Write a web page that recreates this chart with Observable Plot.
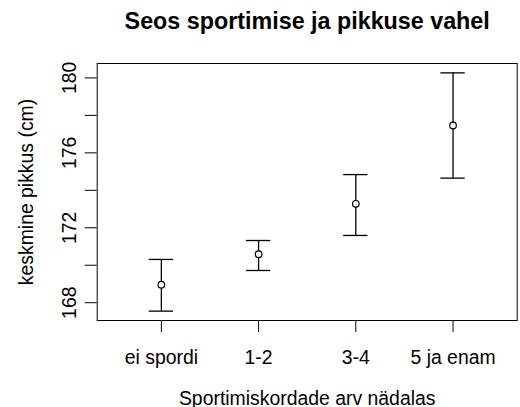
<!DOCTYPE html>
<html>
<head>
<meta charset="utf-8">
<script src="https://cdn.jsdelivr.net/npm/d3@7"></script>
<script src="https://cdn.jsdelivr.net/npm/@observablehq/plot@0.6"></script>
<style>
  html, body { margin: 0; padding: 0; background: white; }
</style>
</head>
<body>
<div id="chart"></div>
<script>
const categories = ["ei spordi", "1-2", "3-4", "5 ja enam"];
const means = [168.96, 170.59, 173.28, 177.46];
const lower = [167.55, 169.72, 171.59, 174.65];
const upper = [170.31, 171.32, 174.84, 180.27];
const yTicks = [168, 170, 172, 174, 176, 178, 180];
const yLabels = [168, 172, 176, 180];

const title = "Seos sportimise ja pikkuse vahel";
const xTitle = "Sportimiskordade arv nädalas";
const yTitle = "keskmine pikkus (cm)";

const data = categories.map((c, i) => ({ i: i + 1, cat: c, mean: means[i], lo: lower[i], hi: upper[i] }));
const capHalf = 0.125;
const font = "'Liberation Sans', Arial, sans-serif";

const chart = Plot.plot({
  width: 520,
  height: 407,
  marginLeft: 96.7,
  marginRight: 3.3,
  marginTop: 63,
  marginBottom: 87,
  style: { fontFamily: font, fontSize: "19.4px", background: "white", color: "black" },
  x: { domain: [0.34, 4.66] },
  y: { domain: [167.05, 180.77] },
  marks: [
    Plot.frame({ stroke: "black" }),
    Plot.axisY({ ticks: yTicks, tickSize: 12, tickFormat: () => "", label: null, stroke: "black" }),
    Plot.text(yLabels, { y: d => d, text: d => String(d), frameAnchor: "left", rotate: -90, dx: -21.7, lineAnchor: "bottom", textAnchor: "middle", fontSize: 19.4 }),
    Plot.axisX({ ticks: [1, 2, 3, 4], tickSize: 12, tickPadding: 17.5, tickFormat: d => categories[d - 1], label: null, fontSize: 19.4, stroke: "black" }),
    Plot.ruleX(data, { x: "i", y1: "lo", y2: "hi", stroke: "black", strokeWidth: 1.3 }),
    Plot.ruleY(data, { y: "lo", x1: d => d.i - capHalf, x2: d => d.i + capHalf, stroke: "black", strokeWidth: 1.3 }),
    Plot.ruleY(data, { y: "hi", x1: d => d.i - capHalf, x2: d => d.i + capHalf, stroke: "black", strokeWidth: 1.3 }),
    Plot.dot(data, { x: "i", y: "mean", r: 3.3, stroke: "black", fill: "white", strokeWidth: 1.2 }),
    Plot.text([title], { frameAnchor: "top", dy: -35, lineAnchor: "bottom", fontWeight: "bold", fontSize: 23.3 }),
    Plot.text([xTitle], { frameAnchor: "bottom", dy: 84, lineAnchor: "bottom", fontSize: 19.4 }),
    Plot.text([yTitle], { frameAnchor: "left", dx: -63.7, rotate: -90, lineAnchor: "bottom", textAnchor: "middle", fontSize: 19.4 })
  ]
});
document.getElementById("chart").appendChild(chart);
</script>
</body>
</html>
